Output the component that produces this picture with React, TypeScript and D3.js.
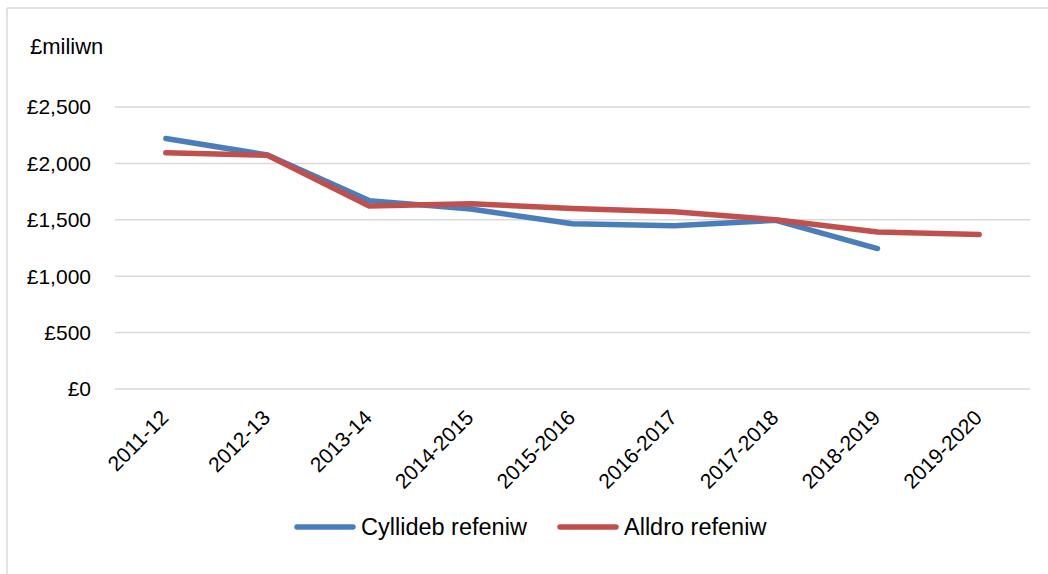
import React from "react";
import * as d3 from "d3";

const categories = ["2011-12", "2012-13", "2013-14", "2014-2015", "2015-2016", "2016-2017", "2017-2018", "2018-2019", "2019-2020"];
const budget: (number | null)[] = [2220, 2075, 1670, 1595, 1465, 1448, 1495, 1245, null];
const spend: (number | null)[] = [2095, 2072, 1622, 1642, 1600, 1572, 1500, 1392, 1370];
const yTicks = [0, 500, 1000, 1500, 2000, 2500];
const seriesNames = ["Cyllideb refeniw", "Alldro refeniw"];
const colors = ["#4A7EBB", "#C0504D"];

const W = 1048, H = 574;
const plot = { left: 115, right: 1030, top: 107, bottom: 389 };
const FONT = "'Liberation Sans', Arial, sans-serif";

export default function App() {
  const x = d3.scaleBand<string>().domain(categories).range([plot.left, plot.right]);
  const y = d3.scaleLinear().domain([0, 2500]).range([plot.bottom, plot.top]);
  const fmt = (v: number) => "£" + d3.format(",")(v);
  const line = d3
    .line<number | null>()
    .defined((d) => d != null)
    .x((_, i) => (x(categories[i]) as number) + x.bandwidth() / 2)
    .y((d) => y(d as number));
  const series = [budget, spend];
  const legendX = [297, 560];
  return (
    <svg width={W} height={H} style={{ position: "absolute", left: 0, top: 0, display: "block" }}>
      <rect x={0} y={0} width={W} height={H} fill="#fff" />
      <line x1={7} y1={8} x2={W} y2={8} stroke="#d9d9d9" strokeWidth={1.5} />
      <line x1={7} y1={8} x2={7} y2={H} stroke="#d9d9d9" strokeWidth={1.5} />
      <text x={30} y={54} fontFamily={FONT} fontSize={22} fill="#000">£miliwn</text>
      {yTicks.map((t) => (
        <g key={t}>
          <line x1={plot.left} x2={plot.right} y1={y(t)} y2={y(t)} stroke="#d9d9d9" strokeWidth={1.5} />
          <text x={91} y={y(t)} dy="0.35em" textAnchor="end" fontFamily={FONT} fontSize={21} fill="#000">
            {fmt(t)}
          </text>
        </g>
      ))}
      {categories.map((c) => {
        const cx = (x(c) as number) + x.bandwidth() / 2 + 4;
        const cy = plot.bottom + 30;
        return (
          <text key={c} x={cx} y={cy} textAnchor="end" fontFamily={FONT} fontSize={21} fill="#000"
            transform={`rotate(-45 ${cx} ${cy})`}>
            {c}
          </text>
        );
      })}
      {series.map((s, i) => (
        <path key={i} d={line(s) || ""} fill="none" stroke={colors[i]} strokeWidth={5.5}
          strokeLinecap="round" strokeLinejoin="round" />
      ))}
      {seriesNames.map((n, i) => (
        <g key={n}>
          <line x1={legendX[i]} x2={legendX[i] + 56} y1={527} y2={527} stroke={colors[i]} strokeWidth={5.5} strokeLinecap="round" />
          <text x={legendX[i] + 64} y={527} dy="0.35em" fontFamily={FONT} fontSize={23.5} fill="#000">{n}</text>
        </g>
      ))}
    </svg>
  );
}
